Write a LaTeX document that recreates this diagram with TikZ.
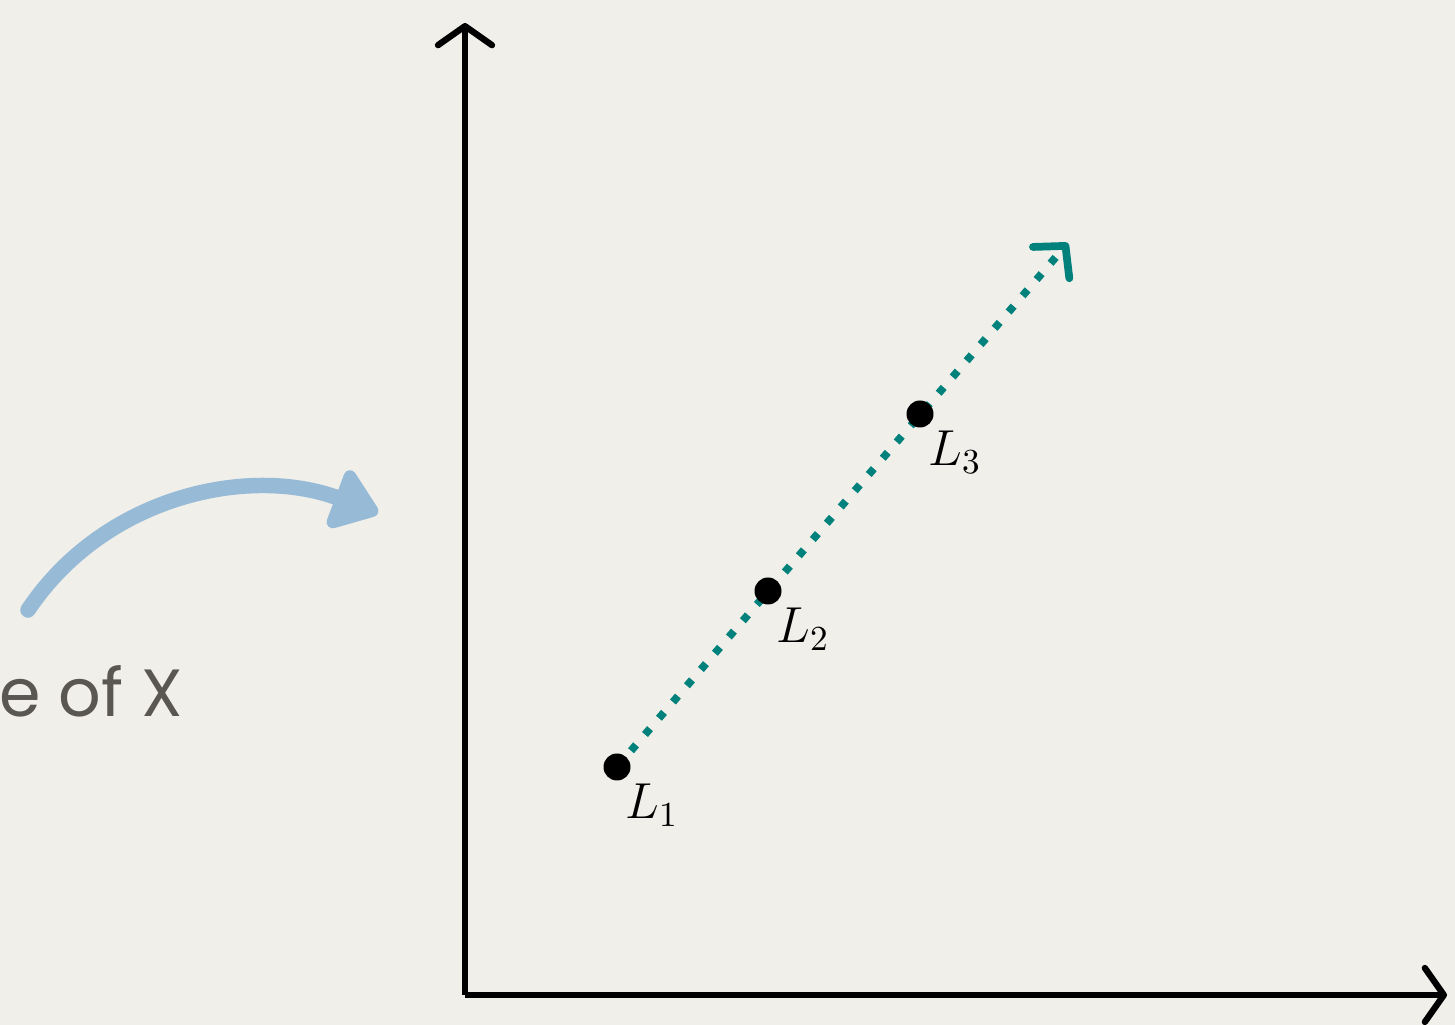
\documentclass[tikz,border=0pt]{standalone}
\usepackage{fontspec}
\newfontfamily\notefont{Poppins}
\usetikzlibrary{positioning,calc,arrows.meta,backgrounds}
\definecolor{paper}{HTML}{F0EFEA}
\definecolor{trendteal}{HTML}{00817C}
\definecolor{hintblue}{HTML}{97BAD6}
\definecolor{notegray}{HTML}{5A5651}
\tikzset{
  axis/.style={line width=1.8pt,-{Straight Barb[round,length=1.9mm,width=5.4mm]}},
  point/.style={circle,fill=black,minimum size=2.7mm,inner sep=0},
  lab/.style={font=\fontsize{14}{16}\selectfont},
  % the trend line is dotted, its tip drawn solid
  trend/.style={trendteal,line width=2.2pt,dash pattern=on 2.2pt off 3.9pt,
                -{Straight Barb[round,length=2.2mm,width=4.8mm]}},
  hint/.style={hintblue,line width=4.4pt,line cap=round,
               -{Triangle[round,length=5mm,width=7mm]}},
  note/.style={notegray,font=\notefont\fontsize{19}{23}\selectfont},
}
\begin{document}
\begin{tikzpicture}
  \useasboundingbox (0,0) rectangle (14.55,10.25);
  % axes
  \coordinate (O) at (4.65,0.30);
  \coordinate (ytip) at (4.65,10.02);
  \coordinate (xtip) at (14.47,0.30);
  \draw[axis] (O) -- (ytip);
  \draw[axis] (O) -- (xtip);
  % the points and their labels
  \foreach \i/\x/\y in {1/6.17/2.58, 2/7.68/4.34, 3/9.20/6.11} {
    \node[point] (L\i) at (\x,\y) {};
    \node[lab] (l\i) at ($(L\i)+(0.35,-0.38)$) {$L_\i$};
  }
  \coordinate (ttip) at (10.68,7.82);
  \begin{pgfonlayer}{background}
    \fill[paper] (0,0) rectangle (14.55,10.25);
    \draw[trend] (L1.center) -- (ttip);
  \end{pgfonlayer}
  % the hint on the left
  \node[note,anchor=base east] (hinttext) at (1.95,3.08) {ne of X};
  \coordinate (hstart) at (0.28,4.15);
  \coordinate (htip) at (3.78,5.12);
  \draw[hint] (hstart) .. controls (1.05,5.3) and (2.5,5.6) .. (htip);
\end{tikzpicture}
\end{document}
